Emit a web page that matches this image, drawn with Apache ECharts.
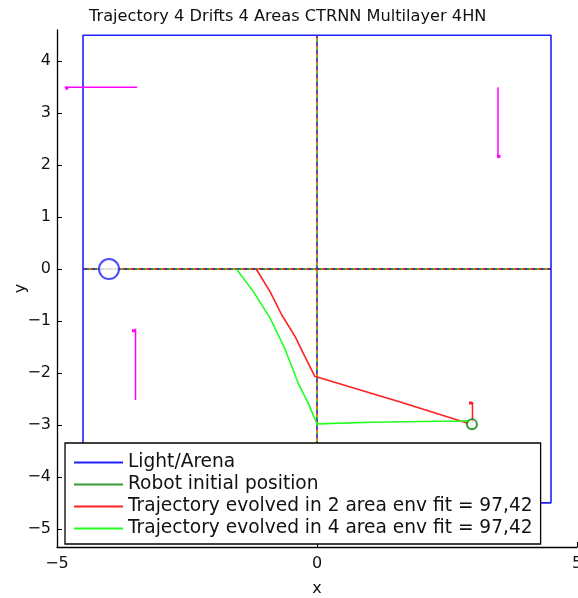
<!DOCTYPE html>
<html>
<head>
<meta charset="utf-8">
<script src="https://cdn.jsdelivr.net/npm/echarts@6/dist/echarts.min.js"></script>
<style>
  html, body { margin: 0; padding: 0; background: #fff; }
  #chart { width: 578px; height: 598px; }
</style>
</head>
<body>
<div id="chart"></div>
<script>
// Axis ticks
const xTicks = [-5, 0, 5];
const yTicks = [-5, -4, -3, -2, -1, 0, 1, 2, 3, 4];

// Arena outline (square) and light source
const arenaX = [-4.5, 4.5, 4.5, -4.5, -4.5];
const arenaY = [-4.5, -4.5, 4.5, 4.5, -4.5];
const lightPos = [-4, 0];

// Area dividers (x = 0 and y = 0)
const dividerH = [[-4.5, 0], [4.5, 0]];
const dividerV = [[0, -4.5], [0, 4.5]];

// Robot start
const robotStart = [2.98, -2.99];

// Trajectory evolved in 2 area env
const redX = [2.9, 1.6, 0.0, -0.04, -0.23, -0.42, -0.68, -0.9, -1.17];
const redY = [-2.97, -2.56, -2.08, -2.07, -1.69, -1.3, -0.88, -0.44, 0.0];
// short red segment at the start point
const redTickX = [2.99, 2.99];
const redTickY = [-2.97, -2.56];

// Trajectory evolved in 4 area env
const greenX = [2.98, 2.88, 2.69, 2.33, 2.33, 1.05, 1.05, 0.0, -0.17, -0.36, -0.62, -0.9, -1.22, -1.55];
const greenY = [-2.99, -2.92, -2.93, -2.93, -2.95, -2.95, -2.98, -2.98, -2.58, -2.2, -1.53, -0.95, -0.44, 0.0];

// Drift arrows: [x0, y0, x1, y1]
const driftTopLeft = [-3.46, 3.5, -4.85, 3.5];
const driftTopRight = [3.48, 3.5, 3.48, 2.13];
const driftBottomLeft = [-3.49, -2.52, -3.49, -1.15];

const zip = (xs, ys) => xs.map((x, i) => [x, ys[i]]);
const seg = (a) => [[a[0], a[1]], [a[2], a[3]]];
const minus = (v) => String(v).replace('-', '\u2212');

const FONT = 'DejaVu Sans';
const TXT = '#111';
const BLUE = '#2020ff';
const RED = '#ff2020';
const GREEN = '#20ff20';
const DKGREEN = '#008000';
const MAGENTA = '#ff00ff';

function arrowSeries(a, color, offset) {
  return {
    type: 'line',
    data: seg(a),
    lineStyle: { color: color, width: 1.5 },
    itemStyle: { color: color },
    symbol: (v, p) => (p.dataIndex === 1 ? 'rect' : 'none'),
    symbolSize: 3,
    symbolOffset: offset,
    showAllSymbol: true,
    silent: true,
    z: 4
  };
}

const dotColors = ['#d02828', '#c89010', '#209a20', '#2838d0'];
function dottedSeries(data) {
  return dotColors.map((c, i) => ({
    type: 'line',
    data: data,
    symbol: 'none',
    lineStyle: { color: c, width: 2, type: [2, 6], dashOffset: i * 2 },
    silent: true,
    z: 1
  }));
}

const chart = echarts.init(document.getElementById('chart'), null, { renderer: 'canvas' });

chart.setOption({
  animation: false,
  backgroundColor: '#fff',
  title: {
    text: 'Trajectory 4 Drifts 4 Areas CTRNN Multilayer 4HN',
    left: 84,
    top: 4,
    textStyle: { fontFamily: FONT, fontSize: 16.2, fontWeight: 'normal', color: TXT }
  },
  grid: { left: 57, right: 1, top: 30, bottom: 51, containLabel: false, outerBoundsMode: 'none' },
  xAxis: {
    type: 'value',
    min: -5, max: 5, interval: 5,
    name: 'x', nameLocation: 'middle', nameGap: 34, nameMoveOverlap: false,
    nameTextStyle: { fontFamily: FONT, fontSize: 16, color: TXT },
    axisLine: { onZero: false, lineStyle: { color: '#000', width: 1.3 } },
    axisTick: { inside: true, length: 5, lineStyle: { color: '#000' } },
    axisLabel: { fontFamily: FONT, fontSize: 16, color: TXT, margin: 9, formatter: minus,
                 showMinLabel: true, showMaxLabel: true, hideOverlap: false },
    splitLine: { show: false }
  },
  yAxis: {
    type: 'value',
    min: -5.35, max: 4.6,
    name: 'y', nameLocation: 'middle', nameGap: 28, nameRotate: 90, nameMoveOverlap: false,
    nameTextStyle: { fontFamily: FONT, fontSize: 16, color: TXT },
    axisLine: { onZero: false, lineStyle: { color: '#000', width: 1.3 } },
    axisTick: { inside: true, length: 5, lineStyle: { color: '#000' }, customValues: yTicks },
    axisLabel: { fontFamily: FONT, fontSize: 16, color: TXT, margin: 6, customValues: yTicks, formatter: minus },
    splitLine: { show: false }
  },
  legend: {
    orient: 'vertical',
    left: 65, top: 443,
    padding: [10, 8, 6, 9],
    itemWidth: 49, itemHeight: 2, itemGap: 3,
    backgroundColor: '#fff',
    borderColor: '#000', borderWidth: 1.3,
    borderRadius: 0,
    textStyle: { fontFamily: FONT, fontSize: 18.6, color: TXT },
    data: [
      { name: 'Light/Arena', icon: 'rect', itemStyle: { color: BLUE, borderWidth: 0 } },
      { name: 'Robot initial position', icon: 'rect', itemStyle: { color: DKGREEN, borderWidth: 0 } },
      { name: 'Trajectory evolved in 2 area env fit = 97,42', icon: 'rect', itemStyle: { color: RED, borderWidth: 0 } },
      { name: 'Trajectory evolved in 4 area env fit = 97,42', icon: 'rect', itemStyle: { color: GREEN, borderWidth: 0 } }
    ],
    selectedMode: false
  },
  series: [
    ...dottedSeries(dividerH),
    ...dottedSeries(dividerV),
    {
      name: 'Light/Arena', type: 'line', data: zip(arenaX, arenaY), symbol: 'none',
      lineStyle: { color: BLUE, width: 1.6 }, itemStyle: { color: BLUE }, z: 2
    },
    {
      name: 'Light/Arena', type: 'scatter', data: [lightPos], symbol: 'emptyCircle', symbolSize: 20,
      itemStyle: { color: BLUE, borderWidth: 1.5 }, z: 3
    },
    {
      name: 'Robot initial position', type: 'scatter', data: [robotStart], symbol: 'emptyCircle', symbolSize: 10,
      itemStyle: { color: DKGREEN, borderWidth: 1.3 }, z: 6
    },
    {
      name: 'Trajectory evolved in 2 area env fit = 97,42', type: 'line', data: zip(redX, redY), symbol: 'none',
      lineStyle: { color: RED, width: 1.6 }, itemStyle: { color: RED }, z: 4
    },
    arrowSeries([redTickX[0], redTickY[0], redTickX[1], redTickY[1]], RED, [-2, 1]),
    {
      name: 'Trajectory evolved in 4 area env fit = 97,42', type: 'line', data: zip(greenX, greenY), symbol: 'none',
      lineStyle: { color: GREEN, width: 1.6 }, itemStyle: { color: GREEN }, z: 5
    },
    arrowSeries(driftTopLeft, MAGENTA, [2, 1]),
    arrowSeries(driftTopRight, MAGENTA, [1, -2]),
    arrowSeries(driftBottomLeft, MAGENTA, [-2, 2])
  ]
});
</script>
</body>
</html>
